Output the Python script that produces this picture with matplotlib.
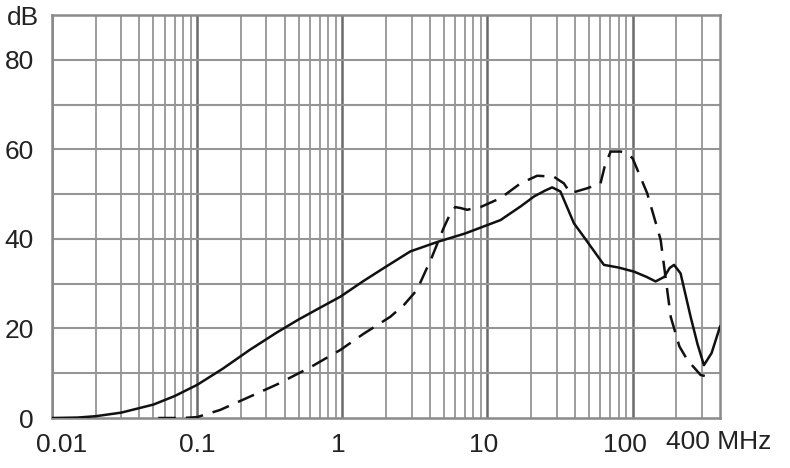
import numpy as np
import matplotlib.pyplot as plt
from matplotlib.ticker import FixedLocator, NullFormatter
from matplotlib.transforms import ScaledTranslation

plt.rcParams['font.family'] = ['Liberation Sans', 'DejaVu Sans']

# solid curve (MHz, dB)
solid_f = [0.01, 0.015, 0.02, 0.03, 0.05, 0.07, 0.1, 0.15, 0.23, 0.35, 0.5, 0.7, 0.97,
           1.4, 2.0, 2.94, 4.6, 7.0, 12.3, 17, 21, 25, 27.9, 31.8, 36, 39.4, 46,
           55, 63.4, 80, 102, 125, 144, 165, 180, 193, 214, 251, 280, 310, 350, 400]
solid_db = [0.0, 0.1, 0.4, 1.2, 3.0, 4.9, 7.4, 11.0, 15.2, 19.0, 22.0, 24.6, 27.1,
            30.6, 33.8, 37.2, 39.4, 41.2, 44.2, 47.3, 49.5, 50.8, 51.5, 50.6, 46.5,
            43.5, 40.5, 37.0, 34.2, 33.6, 32.7, 31.5, 30.5, 31.5, 33.5, 34.2, 32.3,
            22.6, 16.5, 11.8, 14.5, 20.4]

# dashed curve (MHz, dB)
dash_f = [0.054, 0.08, 0.1, 0.144, 0.232, 0.355, 0.6, 0.97, 1.4, 2.14, 2.65, 3.27,
          4.15, 5.0, 5.56, 6.0, 6.5, 7.24, 8.95, 12.3, 16.9, 22, 28.6, 33.6, 37.3,
          48.6, 60.1, 64, 70.5, 82.6, 91.8, 100, 126, 156, 183, 210, 238, 294, 345]
dash_db = [0.0, 0.0, 0.2, 1.8, 4.8, 7.5, 11.3, 15.2, 18.8, 22.6, 25.2, 28.6,
           36.0, 42.5, 45.7, 47.1, 46.9, 46.5, 47.1, 49.1, 52.4, 54.1, 53.9, 52.4,
           50.2, 51.3, 52.4, 56.0, 59.5, 59.5, 59.1, 58.0, 50.2, 39.8, 22.6, 16.0,
           13.0, 9.6, 9.1]

x_major = [0.01, 0.1, 1, 10, 100]
x_labels = ['0.01', '0.1', '1', '10', '100']
y_ticks = [0, 20, 40, 60, 80]

fig = plt.figure(figsize=(7.9, 4.68), dpi=100)
ax = fig.add_axes([52 / 790, 50 / 468, 668 / 790, 403 / 468])

ax.set_xscale('log')
ax.set_xlim(0.01, 400)
ax.set_ylim(0, 90)

# grid
minor = [m * 10.0 ** e for e in range(-2, 3) for m in range(2, 10) if m * 10.0 ** e < 400]
for f in minor:
    ax.axvline(f, color='#959595', lw=1.3, zorder=1)
for f in x_major:
    ax.axvline(f, color='#6a6a6a', lw=1.8, zorder=1)
for y in range(10, 90, 10):
    ax.axhline(y, color='#959595', lw=1.5, zorder=1)

ax.plot(solid_f, solid_db, color='#111111', lw=1.8, zorder=3)
ax.plot(dash_f, dash_db, color='#111111', lw=1.8, dashes=(7, 4), zorder=3)

ax.xaxis.set_major_locator(FixedLocator(x_major))
ax.xaxis.set_major_formatter(plt.FixedFormatter(x_labels))
ax.xaxis.set_minor_formatter(NullFormatter())
ax.set_yticks(y_ticks)
ax.tick_params(which='both', length=0, labelsize=19, colors='#222222', pad=11)
ax.tick_params(axis='y', pad=13)

# first and last-decade labels sit a little off their lines, as in the original
shifts = [0.10, 0, -0.04, -0.04, -0.08]
for lab, dx in zip(ax.get_xticklabels(), shifts):
    lab.set_transform(lab.get_transform() + ScaledTranslation(dx, 0, fig.dpi_scale_trans))

for s in ax.spines.values():
    s.set_color('#8a8a8a')
    s.set_linewidth(1.8)

fig.text(7 / 790, 1 - 18 / 468, 'dB', fontsize=19, color='#222222', va='center')
fig.text(666 / 790, 1 - 442 / 468, '400 MHz', fontsize=19, color='#222222', va='center')

fig.savefig('out.png', dpi=100)
